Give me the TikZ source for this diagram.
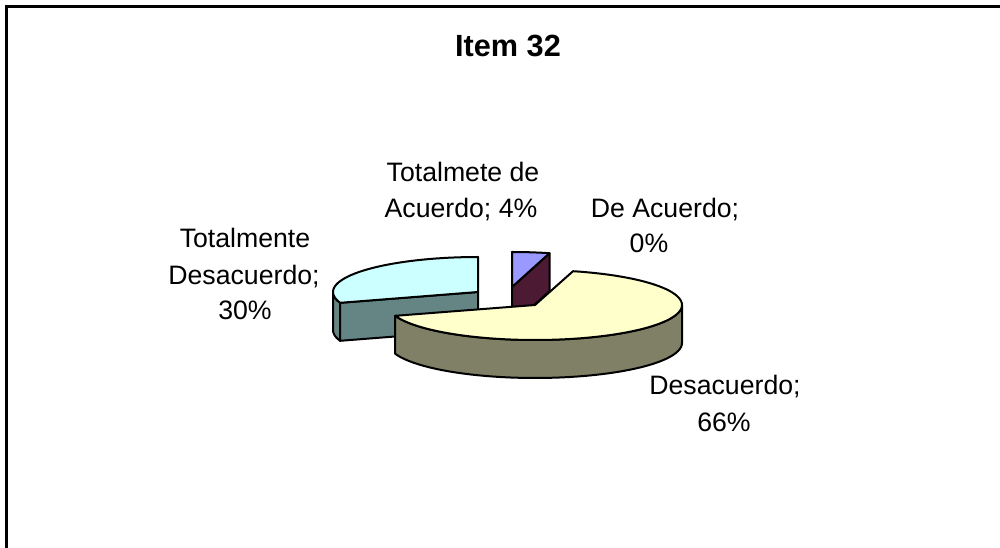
\documentclass[tikz,border=0pt]{standalone}
\usepackage{fontspec}
\setmainfont{Liberation Sans}
\definecolor{cyantop}{HTML}{CCFFFF}
\definecolor{cyanside}{HTML}{658585}
\definecolor{yellowtop}{HTML}{FFFFCC}
\definecolor{yellowside}{HTML}{808066}
\definecolor{purpletop}{HTML}{9999FF}
\definecolor{maroonside}{HTML}{4D1A33}
\begin{document}
\begin{tikzpicture}[x=0.75pt,y=-0.75pt,
  edge/.style={draw=black, line width=1.5pt, line join=round},
  lbl/.style={anchor=base, inner sep=0pt, font=\fontsize{20}{24}\selectfont},
  ttl/.style={anchor=base, inner sep=0pt, font=\fontsize{23}{28}\selectfont\bfseries},
  frameline/.style={draw=black, line width=2.2pt}]
\useasboundingbox (0,0) rectangle (1000,548);
% frame
\coordinate (fbl) at (6.5,548);
\coordinate (ftl) at (6.5,6.5);
\coordinate (ftr) at (1000,6.5);
\draw[frameline] (fbl) -- (ftl) -- (ftr);
% title
\node[ttl] (title) at (508,57) {Item 32};
% ---- Totalmente Desacuerdo (cyan) ----
\coordinate (cA) at (478,292);
\coordinate (cB) at ({478+145*cos(198)},{292-35*sin(198)});
\coordinate (cAd) at (478,330);
\path[edge, fill=cyanside] plot[domain=180:198,samples=12] ({478+145*cos(\x)},{292-35*sin(\x)})
   -- plot[domain=198:180,samples=12] ({478+145*cos(\x)},{330-35*sin(\x)}) -- cycle;
\path[edge, fill=cyanside] (cA) -- (cB) -- ++(0,38) -- (cAd) -- cycle;
\path[edge, fill=cyantop] (cA) -- plot[domain=90:198,samples=40] ({478+145*cos(\x)},{292-35*sin(\x)}) -- cycle;
% ---- Totalmete de Acuerdo (purple) ----
\coordinate (pA) at (512,287);
\coordinate (pB) at ({512+145*cos(75)},{287-35*sin(75)});
\coordinate (pAd) at (512,325);
\path[edge, fill=maroonside] (pA) -- (pB) -- ++(0,38) -- (pAd) -- cycle;
\path[edge, fill=purpletop] (pA) -- plot[domain=75:90,samples=8] ({512+145*cos(\x)},{287-35*sin(\x)}) -- cycle;
% ---- Desacuerdo (yellow) ----
\coordinate (yA) at (535,305);
\path[edge, fill=yellowside] plot[domain=-162:0,samples=50] ({535+147*cos(\x)},{305-35*sin(\x)})
   -- plot[domain=0:-162,samples=50] ({535+147*cos(\x)},{343-35*sin(\x)}) -- cycle;
\path[edge, fill=yellowtop] (yA) -- plot[domain=-162:75,samples=80] ({535+147*cos(\x)},{305-35*sin(\x)}) -- cycle;
% ---- labels ----
\node[lbl] (l1a) at (463,182) {Totalmete de};
\node[lbl] (l1b) at (461,218) {Acuerdo; 4\%};
\node[lbl] (l2a) at (665,218) {De Acuerdo;};
\node[lbl] (l2b) at (649,253) {0\%};
\node[lbl] (l3a) at (245,248) {Totalmente};
\node[lbl] (l3b) at (244,285) {Desacuerdo;};
\node[lbl] (l3c) at (245,320) {30\%};
\node[lbl] (l4a) at (725,395) {Desacuerdo;};
\node[lbl] (l4b) at (724,432) {66\%};
\end{tikzpicture}
\end{document}
